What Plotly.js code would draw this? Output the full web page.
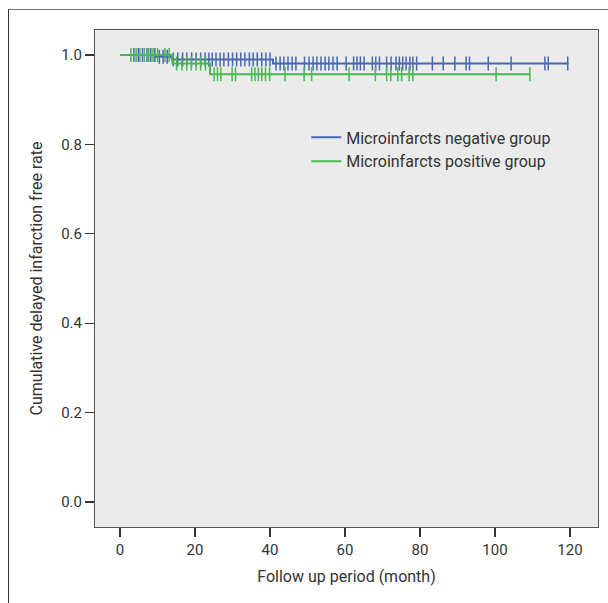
<!DOCTYPE html>
<html>
<head>
<meta charset="utf-8">
<script src="https://cdn.plot.ly/plotly-3.0.1.min.js"></script>
<style>
  html, body { margin: 0; padding: 0; background: #fff; }
  #chart { position: absolute; left: 0; top: 0; width: 608px; height: 603px; }
  #frame { position: absolute; left: 8px; top: 9px; width: 600px; height: 594px;
           border-top: 1.5px solid #777; border-left: 1.5px solid #333; pointer-events: none; }
</style>
</head>
<body>
<div id="chart"></div>
<div id="frame"></div>
<script>
// Kaplan-Meier step data (event times in months, survival)
const negTimes = [0, 9.6, 13.8, 40.8, 119.6];
const negSurv  = [1.0, 0.996, 0.990, 0.981, 0.981];
const posTimes = [0, 14.0, 24.0, 109.3];
const posSurv  = [1.0, 0.981, 0.957, 0.957];

// Censored observations (months)
const negCensor = [3.7, 4.9, 6.0, 7.2, 8.2, 9.3,
  10.5, 11.5, 12.6,
  14.2, 15.4, 16.7, 17.8, 19.1, 20.3, 21.5, 22.7, 23.7, 24.6, 25.6, 26.7, 27.7, 28.9, 30.0,
  31.1, 32.2, 33.3, 34.5, 35.5, 36.6, 37.8, 38.9, 40.0,
  41.6, 42.7, 43.7, 44.8, 45.9, 46.9, 49.2, 50.4, 51.5, 52.5, 53.6, 54.7, 55.7, 56.8, 57.9,
  60.3, 62.3, 63.2, 64.1, 65.1, 67.3, 68.2, 69.2, 71.1, 72.3, 73.6, 74.5, 75.4, 76.3, 77.3,
  78.1, 79.1, 83.3, 86.2, 89.3, 92.3, 93.2, 98.2, 104.3, 113.3, 114.2, 119.4];
const posCensor = [2.9, 4.3, 5.3, 6.5, 7.7, 8.8, 10.0, 12.0, 13.1,
  15.1, 16.5, 17.8, 19.0, 20.3, 21.5, 22.8,
  25.1, 26.0, 26.9, 29.9, 30.8, 35.1, 36.0, 36.9, 37.8, 38.8, 39.9, 44.0, 49.1, 51.1,
  61.1, 68.1, 71.1, 72.2, 74.1, 75.1, 77.1, 78.1, 100.3, 109.3];

const seriesNames = ['Microinfarcts negative group', 'Microinfarcts positive group'];
const xTicks = [0, 20, 40, 60, 80, 100, 120];
const yTicks = [0, 0.2, 0.4, 0.6, 0.8, 1.0];
const yTickText = ['0.0', '0.2', '0.4', '0.6', '0.8', '1.0'];

const blue = 'rgb(72,104,178)';
const green = 'rgb(72,184,80)';

// survival value at time t for a step function
function survAt(times, surv, t) {
  let s = surv[0];
  for (let i = 0; i < times.length; i++) { if (times[i] <= t) s = surv[i]; }
  return s;
}

const traces = [
  { x: negTimes, y: negSurv, type: 'scatter', mode: 'lines', line: { shape: 'hv', color: blue, width: 2 },
    name: seriesNames[0], legendgroup: 'neg' },
  { x: negCensor, y: negCensor.map(t => survAt(negTimes, negSurv, t)), type: 'scatter', mode: 'markers',
    marker: { symbol: 'line-ns-open', size: 10, color: blue, line: { color: blue, width: 1.5 } },
    showlegend: false, legendgroup: 'neg', hoverinfo: 'skip' },
  { x: posTimes, y: posSurv, type: 'scatter', mode: 'lines', line: { shape: 'hv', color: green, width: 2 },
    name: seriesNames[1], legendgroup: 'pos' },
  { x: posCensor, y: posCensor.map(t => survAt(posTimes, posSurv, t)), type: 'scatter', mode: 'markers',
    marker: { symbol: 'line-ns-open', size: 10, color: green, line: { color: green, width: 1.5 } },
    showlegend: false, legendgroup: 'pos', hoverinfo: 'skip' }
];

const fontFam = 'Roboto, "Liberation Sans", sans-serif';
const layout = {
  width: 608, height: 603,
  margin: { l: 95, r: 10, t: 30, b: 76, pad: 0 },
  paper_bgcolor: '#ffffff',
  plot_bgcolor: 'rgb(235,235,235)',
  font: { family: fontFam, size: 15, color: '#333' },
  showlegend: true,
  legend: { x: 0.42, y: 0.818, xanchor: 'left', yanchor: 'top', bgcolor: 'rgba(0,0,0,0)',
            font: { family: fontFam, size: 16, color: '#333' }, tracegroupgap: 0, itemwidth: 30 },
  xaxis: {
    range: [-6.67, 127.47], tickvals: xTicks, ticks: 'outside', ticklen: 9, tickwidth: 1.2, tickcolor: '#333',
    showgrid: false, zeroline: false, showline: true, mirror: true, linecolor: '#555', linewidth: 1,
    tickfont: { size: 15, color: '#333' },
    title: { text: 'Follow up period (month)', font: { size: 16, color: '#333' }, standoff: 12 }
  },
  yaxis: {
    range: [-0.0559, 1.0559], tickvals: yTicks, ticktext: yTickText, ticks: 'outside', ticklen: 9, tickwidth: 1.2,
    tickcolor: '#333', showgrid: false, zeroline: false, showline: true, mirror: true, linecolor: '#555', linewidth: 1,
    tickfont: { size: 15, color: '#333' },
    title: { text: 'Cumulative delayed infarction free rate', font: { size: 16, color: '#333' }, standoff: 14 }
  }
};

Plotly.newPlot('chart', traces, layout, { staticPlot: true, displayModeBar: false });
</script>
</body>
</html>
